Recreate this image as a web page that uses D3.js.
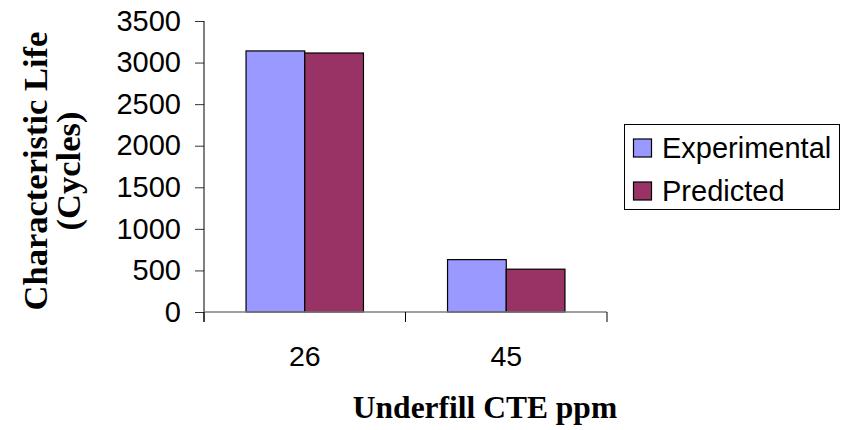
<!DOCTYPE html>
<html>
<head>
<meta charset="utf-8">
<script src="https://cdn.jsdelivr.net/npm/d3@7"></script>
<style>
  html, body { margin: 0; padding: 0; background: #fff; }
  svg { display: block; }
</style>
</head>
<body>
<svg id="chart" width="842" height="430"></svg>
<script>
// Characteristic life by underfill CTE
const categories = ["26", "45"];
const seriesNames = ["Experimental", "Predicted"];
const experimental = [3140, 630];
const predicted = [3115, 515];
const yTicks = [0, 500, 1000, 1500, 2000, 2500, 3000, 3500];
const colors = ["#9999FF", "#993366"];

const seriesValues = [experimental, predicted];
const rows = categories.map((c, i) => ({
  cat: c,
  vals: seriesNames.map((s, j) => ({ key: s, value: seriesValues[j][i], color: colors[j] }))
}));

const svg = d3.select("#chart");
const plot = { left: 204, right: 607, top: 21, bottom: 312 };

const x0 = d3.scaleBand().domain(categories).range([plot.left, plot.right]).padding(0);
const x1 = d3.scaleBand().domain(seriesNames).range([0, x0.bandwidth()]).paddingInner(0).paddingOuter(0.716);
const y = d3.scaleLinear().domain([0, 3500]).range([plot.bottom, plot.top]);

// bars
const groups = svg.append("g").selectAll("g").data(rows).join("g")
  .attr("transform", d => `translate(${x0(d.cat)},0)`);
groups.selectAll("rect").data(d => d.vals).join("rect")
  .attr("x", d => x1(d.key))
  .attr("y", d => y(d.value))
  .attr("width", x1.bandwidth())
  .attr("height", d => y(0) - y(d.value))
  .attr("fill", d => d.color)
  .attr("stroke", "#000")
  .attr("stroke-width", 1.2);

// y axis
const yAxis = d3.axisLeft(y).tickValues(yTicks).tickSize(9).tickPadding(14).tickFormat(d3.format("d"));
const gy = svg.append("g").attr("transform", `translate(${plot.left},0)`).call(yAxis);
gy.select(".domain").remove();
gy.selectAll(".tick line").attr("stroke", "#333");
gy.selectAll(".tick text")
  .attr("font-family", "Arial, 'Liberation Sans', sans-serif")
  .attr("font-size", 29).attr("fill", "#000");
svg.append("line")
  .attr("x1", plot.left).attr("x2", plot.left)
  .attr("y1", plot.top).attr("y2", plot.bottom + 10)
  .attr("stroke", "#000").attr("stroke-width", 1);

// x axis: baseline, boundary ticks and category labels
svg.append("line")
  .attr("x1", plot.left).attr("x2", plot.right)
  .attr("y1", y(0)).attr("y2", y(0))
  .attr("stroke", "#808080").attr("stroke-width", 1.5);
const boundaries = categories.map(c => x0(c)).concat([plot.right]);
svg.append("g").selectAll("line").data(boundaries).join("line")
  .attr("x1", d => d).attr("x2", d => d)
  .attr("y1", y(0)).attr("y2", y(0) + 10)
  .attr("stroke", "#000").attr("stroke-width", 1);
svg.append("g").selectAll("text").data(categories).join("text")
  .attr("x", d => x0(d) + x0.bandwidth() / 2)
  .attr("y", 366)
  .attr("text-anchor", "middle")
  .attr("font-family", "Arial, 'Liberation Sans', sans-serif")
  .attr("font-size", 28.5)
  .text(d => d);

// axis titles
svg.append("text")
  .attr("x", 485).attr("y", 418)
  .attr("text-anchor", "middle")
  .attr("font-family", "'Times New Roman', 'Liberation Serif', serif")
  .attr("font-weight", "bold")
  .attr("font-size", 31.5)
  .text("Underfill CTE ppm");

const yTitle = svg.append("text")
  .attr("transform", "translate(47,171) rotate(-90)")
  .attr("text-anchor", "middle")
  .attr("font-family", "'Times New Roman', 'Liberation Serif', serif")
  .attr("font-weight", "bold")
  .attr("font-size", 34.5);
yTitle.append("tspan").attr("x", 0).attr("y", 0).text("Characteristic Life");
yTitle.append("tspan").attr("x", 0).attr("y", 33).text("(Cycles)");

// legend
const legend = svg.append("g");
legend.append("rect")
  .attr("x", 624.5).attr("y", 124.5).attr("width", 215).attr("height", 85)
  .attr("fill", "#fff").attr("stroke", "#000").attr("stroke-width", 1);
const items = legend.selectAll("g.item").data(seriesNames).join("g")
  .attr("class", "item")
  .attr("transform", (d, i) => `translate(0,${148 + i * 43})`);
items.append("rect")
  .attr("x", 633.5).attr("y", -9).attr("width", 18).attr("height", 18)
  .attr("fill", (d, i) => colors[i]).attr("stroke", "#000").attr("stroke-width", 1.2);
items.append("text")
  .attr("x", 662).attr("y", 0).attr("dy", "0.36em")
  .attr("font-family", "Arial, 'Liberation Sans', sans-serif")
  .attr("font-size", 29)
  .text(d => d);
</script>
</body>
</html>
